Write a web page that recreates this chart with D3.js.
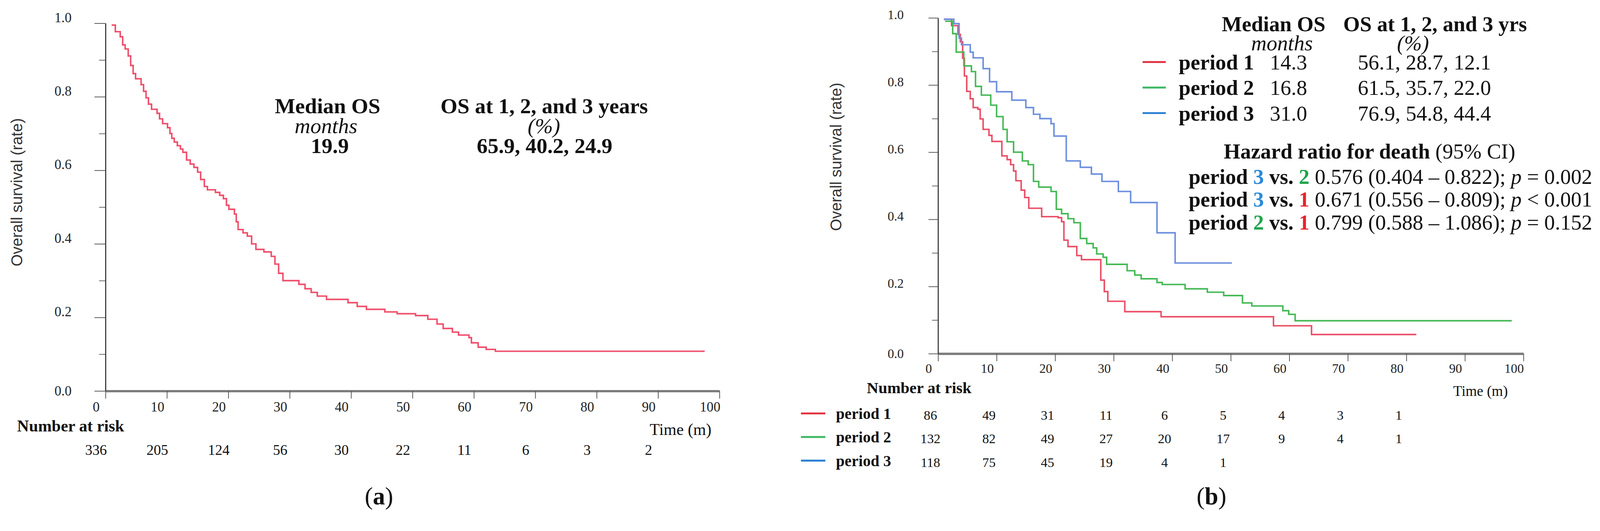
<!DOCTYPE html>
<html>
<head>
<meta charset="utf-8">
<script src="https://cdn.jsdelivr.net/npm/d3@7"></script>
<style>
  body { margin: 0; background: #fff; }
  text { font-family: "Liberation Serif", "Times New Roman", serif; }
</style>
</head>
<body>
<svg id="fig" width="4208" height="1360"></svg>
<script>
// ---- data ----
const monthTicks = [0, 10, 20, 30, 40, 50, 60, 70, 80, 90, 100];
const survTicks = [0, 0.2, 0.4, 0.6, 0.8, 1.0];
const survMinor = [0.1, 0.3, 0.5, 0.7, 0.9];

// (a) whole cohort, Kaplan-Meier steps: time (months) / survival
const allTime = [1.0, 1.6, 2.4, 2.8, 3.2, 3.7, 4.1, 4.5, 4.9, 5.8, 6.2, 6.6, 7.0, 7.5, 8.4, 8.8, 9.3, 10.1, 10.5, 10.8,
  11.2, 11.7, 12.2, 12.6, 13.2, 13.8, 14.4, 15.0, 15.5, 16.1, 16.6, 17.9, 18.6, 19.2, 19.7, 20.1, 21.0, 21.3, 21.6, 22.4,
  23.1, 23.8, 24.5, 25.8, 27.0, 27.6, 28.2, 28.9, 31.5, 32.5, 33.5, 34.5, 36.0, 39.5, 41.0, 42.5, 45.5, 47.5, 50.5, 52.5,
  54.0, 55.0, 56.5, 57.5, 59.2, 59.6, 60.7, 62.0, 63.5, 97.6];
const allSurv = [0.995, 0.977, 0.963, 0.941, 0.930, 0.911, 0.885, 0.863, 0.849, 0.833, 0.815, 0.797, 0.780, 0.766, 0.755, 0.740, 0.727, 0.716, 0.700, 0.687,
  0.677, 0.667, 0.658, 0.649, 0.628, 0.617, 0.608, 0.595, 0.575, 0.556, 0.547, 0.540, 0.532, 0.523, 0.505, 0.494, 0.481, 0.460, 0.439, 0.430,
  0.421, 0.400, 0.385, 0.378, 0.366, 0.345, 0.320, 0.300, 0.290, 0.278, 0.268, 0.258, 0.249, 0.240, 0.230, 0.222, 0.215, 0.210, 0.205, 0.195,
  0.182, 0.170, 0.160, 0.152, 0.145, 0.131, 0.119, 0.113, 0.108, 0.108];
const allAtRisk = [336, 205, 124, 56, 30, 22, 11, 6, 3, 2];

// (b) by period
const periods = ["period 1", "period 2", "period 3"];
const periodColors = ["#ea4f66", "#45b955", "#6d8fdf"];
const legendColors = ["#e42d3c", "#3fb864", "#2a7fd2"];
const digitColors = { "1": "#e8232c", "2": "#1fa64b", "3": "#2a8bd8" };

const p1Time = [1.0, 2.3, 3.4, 3.8, 4.2, 4.5, 4.9, 5.5, 6.0, 6.8, 7.2, 7.7, 8.7, 9.2, 10.9, 11.8, 12.4, 12.9, 13.3, 14.2,
  14.8, 15.5, 17.7, 20.5, 21.1, 21.5, 22.2, 23.7, 24.5, 27.8, 28.4, 29.0, 31.9, 38.1, 57.3, 63.8, 81.7];
const p1Surv = [0.996, 0.977, 0.951, 0.929, 0.880, 0.827, 0.781, 0.759, 0.733, 0.728, 0.699, 0.668, 0.650, 0.632, 0.589, 0.578, 0.563, 0.544, 0.515, 0.487,
  0.465, 0.433, 0.408, 0.405, 0.393, 0.338, 0.319, 0.292, 0.280, 0.219, 0.185, 0.156, 0.125, 0.110, 0.083, 0.057, 0.057];
const p2Time = [1.2, 2.5, 3.1, 4.4, 5.7, 6.4, 7.4, 9.0, 10.0, 11.1, 11.8, 12.9, 14.4, 15.4, 16.3, 17.2, 19.3, 20.2, 21.1, 22.2,
  23.2, 24.3, 25.4, 26.5, 27.1, 28.2, 28.8, 32.3, 33.6, 34.7, 37.4, 38.3, 42.2, 46.0, 48.8, 52.0, 53.6, 58.9, 59.9, 61.0, 98.0];
const p2Surv = [0.990, 0.953, 0.898, 0.857, 0.840, 0.796, 0.770, 0.740, 0.706, 0.668, 0.631, 0.600, 0.574, 0.563, 0.513, 0.496, 0.483, 0.430, 0.417, 0.402,
  0.390, 0.343, 0.328, 0.315, 0.297, 0.287, 0.266, 0.247, 0.234, 0.223, 0.212, 0.206, 0.193, 0.183, 0.173, 0.151, 0.142, 0.128, 0.117, 0.098, 0.098];
const p3Time = [1.0, 2.7, 3.6, 4.0, 5.5, 6.0, 7.7, 8.8, 10.0, 12.6, 15.0, 16.3, 17.4, 19.3, 19.8, 21.9, 24.3, 26.2, 28.0, 30.8,
  32.9, 37.4, 40.5, 50.2];
const p3Surv = [0.996, 0.983, 0.940, 0.920, 0.898, 0.881, 0.849, 0.810, 0.780, 0.755, 0.733, 0.713, 0.700, 0.685, 0.648, 0.574, 0.555, 0.535, 0.513, 0.483,
  0.450, 0.360, 0.270, 0.270];
const atRiskByPeriod = [
  [86, 49, 31, 11, 6, 5, 4, 3, 1],
  [132, 82, 49, 27, 20, 17, 9, 4, 1],
  [118, 75, 45, 19, 4, 1]
];

const medianOS = ["14.3", "16.8", "31.0"];
const osAtYears = ["56.1, 28.7, 12.1", "61.5, 35.7, 22.0", "76.9, 54.8, 44.4"];
const hrPairs = [["3", "2"], ["3", "1"], ["2", "1"]];
const hrValues = ["0.576 (0.404 – 0.822)", "0.671 (0.556 – 0.809)", "0.799 (0.588 – 1.086)"];
const hrP = ["= 0.002", "< 0.001", "= 0.152"];

// ---- drawing ----
const svg = d3.select("#fig");
const root = svg.append("g").attr("transform", "scale(0.975)");

function text(g, x, y, str, size, opts = {}) {
  return g.append("text")
    .attr("x", x).attr("y", y).attr("dy", "0.35em")
    .attr("text-anchor", opts.anchor || "middle")
    .attr("font-size", size)
    .attr("font-weight", opts.bold ? "bold" : null)
    .attr("font-style", opts.italic ? "italic" : null)
    .attr("fill", opts.fill || "#111")
    .text(str);
}

function axes(g, x, y, o) {
  g.append("g")
    .attr("transform", `translate(0,${y(0)})`)
    .call(d3.axisBottom(x).tickValues(monthTicks).tickSize(o.xTick).tickSizeOuter(0).tickFormat(d3.format("d")))
    .call(a => {
      a.attr("font-family", null).attr("font-size", o.tickFont);
      a.select(".domain").attr("stroke", "#7b7b7b").attr("stroke-width", 6);
      a.selectAll(".tick line").attr("stroke", "#555").attr("stroke-width", 2);
      a.selectAll(".tick text").attr("x", -25).attr("y", o.xLabelGap).attr("dy", "0.35em").attr("fill", "#222");
    });

  g.append("g")
    .attr("transform", `translate(${x(0)},0)`)
    .call(d3.axisLeft(y).tickValues(survMinor).tickSize(o.yMinor).tickFormat(""))
    .call(a => {
      a.select(".domain").remove();
      a.selectAll(".tick line").attr("stroke", "#666").attr("stroke-width", 2);
    });

  g.append("g")
    .attr("transform", `translate(${x(0)},0)`)
    .call(d3.axisLeft(y).tickValues(survTicks).tickSize(o.yTick).tickSizeOuter(0).tickPadding(o.yPad).tickFormat(d3.format(".1f")))
    .call(a => {
      a.attr("font-family", null).attr("font-size", o.tickFont);
      a.select(".domain").attr("stroke", "#3c3c3c").attr("stroke-width", 3);
      a.selectAll(".tick line").attr("stroke", "#555").attr("stroke-width", 2);
      a.selectAll(".tick text").attr("fill", "#222").attr("y", d => d === 0 ? 0 : o.yLabelShift);
    });

  g.append("text")
    .attr("transform", `translate(${o.titleX},${o.titleY}) rotate(-90)`)
    .attr("text-anchor", "middle").attr("dy", "0.35em")
    .style("font-family", "'Liberation Sans', Arial, sans-serif")
    .attr("font-size", 41).attr("fill", "#333")
    .text("Overall survival (rate)");
}

function kmPath(g, x, y, times, surv, color) {
  const line = d3.line().x(d => x(d[0])).y(d => y(d[1])).curve(d3.curveStepAfter);
  g.append("path")
    .datum(d3.zip(times, surv))
    .attr("fill", "none")
    .attr("stroke", color)
    .attr("stroke-width", 4)
    .attr("d", line);
}

// ---------- panel (a) ----------
const ga = root.append("g");
const xA = d3.scaleLinear().domain([0, 100]).range([277, 1889]);
const yA = d3.scaleLinear().domain([0, 1]).range([1027, 61]);

axes(ga, xA, yA, { xTick: 20, tickFont: 36, xLabelGap: 41, yTick: 29, yMinor: 17, yPad: 60, yLabelShift: -15, titleX: 44, titleY: 505 });
kmPath(ga, xA, yA, allTime, allSurv, "#ef4f6c");

text(ga, 860, 278, "Median OS", 57, { bold: true });
text(ga, 856, 330, "months", 57, { italic: true });
text(ga, 866, 382, "19.9", 57, { bold: true });
text(ga, 1429, 278, "OS at 1, 2, and 3 years", 57, { bold: true });
text(ga, 1428, 330, "(%)", 57, { italic: true });
text(ga, 1430, 382, "65.9, 40.2, 24.9", 57, { bold: true });

text(ga, 1868, 1128, "Time (m)", 43, { anchor: "end" });
text(ga, 45, 1118, "Number at risk", 43, { bold: true, anchor: "start" });
allAtRisk.forEach((n, i) => text(ga, xA(monthTicks[i]) - 25, 1182, n, 38));

const la = ga.append("text").attr("x", 995).attr("y", 1303).attr("dy", "0.35em")
  .attr("text-anchor", "middle").attr("font-size", 64).attr("fill", "#111");
la.append("tspan").text("(");
la.append("tspan").attr("font-weight", "bold").text("a");
la.append("tspan").text(")");

// ---------- panel (b) ----------
const gb = root.append("g");
const xB = d3.scaleLinear().domain([0, 100]).range([2463, 4000]);
const yB = d3.scaleLinear().domain([0, 1]).range([929, 47]);

axes(gb, xB, yB, { xTick: 20, tickFont: 34, xLabelGap: 39, yTick: 25, yMinor: 16, yPad: 65, yLabelShift: -8, titleX: 2195, titleY: 412 });

const series = [[p1Time, p1Surv], [p2Time, p2Surv], [p3Time, p3Surv]];
series.forEach((s, i) => kmPath(gb, xB, yB, s[0], s[1], periodColors[i]));

text(gb, 3959, 1027, "Time (m)", 38, { anchor: "end" });
text(gb, 2276, 1018, "Number at risk", 42, { bold: true, anchor: "start" });

const riskRowsY = [1086, 1148, 1210];
periods.forEach((p, i) => {
  gb.append("line")
    .attr("x1", 2103).attr("x2", 2167).attr("y1", riskRowsY[i]).attr("y2", riskRowsY[i])
    .attr("stroke", legendColors[i]).attr("stroke-width", 5);
  text(gb, 2195, riskRowsY[i], p, 41, { bold: true, anchor: "start" });
  atRiskByPeriod[i].forEach((n, j) => text(gb, xB(monthTicks[j]) - 20, riskRowsY[i] + 4, n, 35));
});

// table of medians and OS rates
text(gb, 3344, 62, "Median OS", 56, { bold: true });
text(gb, 3366, 113, "months", 56, { italic: true });
text(gb, 3768, 62, "OS at 1, 2, and 3 yrs", 56, { bold: true });
text(gb, 3710, 113, "(%)", 56, { italic: true });

const tableRowsY = [163, 230, 297];
periods.forEach((p, i) => {
  gb.append("line")
    .attr("x1", 3000).attr("x2", 3061).attr("y1", tableRowsY[i]).attr("y2", tableRowsY[i])
    .attr("stroke", legendColors[i]).attr("stroke-width", 5);
  text(gb, 3095, tableRowsY[i], p, 56, { bold: true, anchor: "start" });
  text(gb, 3383, tableRowsY[i], medianOS[i], 56);
  text(gb, 3740, tableRowsY[i], osAtYears[i], 56);
});

// hazard ratios
const hrTitle = gb.append("text").attr("x", 3213).attr("y", 397).attr("dy", "0.35em")
  .attr("font-size", 56).attr("fill", "#111");
hrTitle.append("tspan").attr("font-weight", "bold").text("Hazard ratio for death");
hrTitle.append("tspan").text(" (95% CI)");

const hrRowsY = [463, 523, 583];
hrPairs.forEach((pair, i) => {
  const t = gb.append("text").attr("x", 3121).attr("y", hrRowsY[i]).attr("dy", "0.35em")
    .attr("font-size", 56).attr("fill", "#111");
  t.append("tspan").attr("font-weight", "bold").text("period ");
  t.append("tspan").attr("font-weight", "bold").attr("fill", digitColors[pair[0]]).text(pair[0]);
  t.append("tspan").attr("font-weight", "bold").text(" vs. ");
  t.append("tspan").attr("font-weight", "bold").attr("fill", digitColors[pair[1]]).text(pair[1]);
  t.append("tspan").text(" " + hrValues[i] + "; ");
  t.append("tspan").attr("font-style", "italic").text("p");
  t.append("tspan").text(" " + hrP[i]);
});

const lb = gb.append("text").attr("x", 3181).attr("y", 1303).attr("dy", "0.35em")
  .attr("text-anchor", "middle").attr("font-size", 64).attr("fill", "#111");
lb.append("tspan").text("(");
lb.append("tspan").attr("font-weight", "bold").text("b");
lb.append("tspan").text(")");
</script>
</body>
</html>
